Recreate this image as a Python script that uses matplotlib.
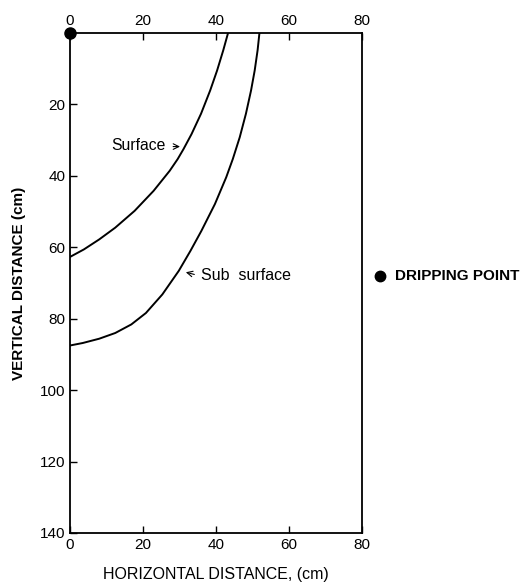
import matplotlib
matplotlib.use("Agg")
import matplotlib.pyplot as plt

plt.rcParams['font.family'] = ['Liberation Sans', 'DejaVu Sans']

# Wetting front profiles (horizontal distance cm, vertical depth cm)
surface_x = [43.3, 42.0, 40.3, 38.4, 35.9, 33.3, 31.1, 29.5, 27.3, 22.9, 17.7, 12.4, 8.0, 3.8, 0.0]
surface_y = [0.0, 4.8, 10.5, 16.1, 22.6, 28.3, 32.5, 35.3, 38.6, 44.2, 49.8, 54.5, 57.8, 60.6, 62.7]
subsurface_x = [51.9, 51.4, 50.6, 49.6, 48.2, 46.5, 44.6, 42.8, 39.7, 36.0, 33.0, 29.8,
                25.3, 20.8, 16.8, 12.4, 8.0, 3.5, 0.0]
subsurface_y = [0.0, 4.8, 10.5, 16.1, 22.6, 29.2, 35.3, 40.4, 47.9, 55.4, 61.0, 66.6,
                73.2, 78.4, 81.6, 84.0, 85.6, 86.8, 87.5]
drip_x = [0]
drip_y = [0]
x_ticks = [0, 20, 40, 60, 80]
y_ticks = [20, 40, 60, 80, 100, 120, 140]

fig = plt.figure(figsize=(5.24, 5.82), dpi=100)
ax = fig.add_axes([70/524, 1-533/582, 292/524, 500/582])

ax.plot(surface_x, surface_y, color='black', lw=1.4, solid_joinstyle='round')
ax.plot(subsurface_x, subsurface_y, color='black', lw=1.4, solid_joinstyle='round')
ax.plot(drip_x, drip_y, 'o', color='black', markersize=8, clip_on=False, zorder=5)

ax.set_xlim(0, 80)
ax.set_ylim(140, 0)

ax.set_xticks(x_ticks)
ax.set_yticks(y_ticks)
ax.tick_params(axis='x', which='both', top=True, bottom=True, labeltop=True,
               labelbottom=True, direction='in', length=5, width=1, labelsize=11)
ax.tick_params(axis='y', which='both', left=True, right=False, direction='in',
               length=5, width=1, labelsize=11)
for s in ax.spines.values():
    s.set_linewidth(1.3)

ax.set_xlabel('HORIZONTAL DISTANCE, (cm)', fontsize=11.5, labelpad=11)
ax.set_ylabel('VERTICAL DISTANCE (cm)', fontsize=11, fontweight='bold', labelpad=10)

ax.text(11.3, 31.6, 'Surface', fontsize=11.3, va='center', ha='left')
ax.annotate('', xy=(30.9, 31.8), xytext=(27.5, 31.8),
            arrowprops=dict(arrowstyle='->', lw=0.8, color='black'))
ax.text(35.9, 68.0, 'Sub  surface', fontsize=11.5, va='center', ha='left')
ax.annotate('', xy=(31.0, 66.8), xytext=(34.8, 67.8),
            arrowprops=dict(arrowstyle='->', lw=0.8, color='black'))

ax.plot([84.9], [68.0], 'o', color='black', markersize=7.5, clip_on=False)
ax.text(89, 68.0, 'DRIPPING POINT', fontsize=11, va='center', ha='left',
        fontweight='bold', clip_on=False)

fig.savefig('out.png', dpi=100)
